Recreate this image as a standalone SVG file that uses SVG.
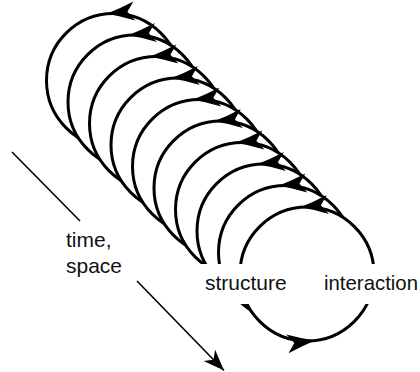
<svg xmlns="http://www.w3.org/2000/svg" xmlns:xlink="http://www.w3.org/1999/xlink" width="420" height="372" viewBox="0 0 420 372">
<style>
.loop{fill:#fff;stroke:#000;stroke-width:3}
.ah{fill:#000;stroke:none}
.lbl{font-family:"Liberation Sans",Arial,sans-serif;font-size:21px;fill:#111}
.bg{fill:#fff;stroke:none}
.axis{stroke:#000;stroke-width:1.6;fill:none}
</style>
<defs>
<path id="ah" class="ah" d="M67,0 Q70.5,13 76.5,28 L67,21 L57.5,28 Q63.5,13 67,0 Z"/>
<marker id="arr" markerUnits="userSpaceOnUse" markerWidth="24" markerHeight="20" viewBox="-22 -10 24 20" refX="0" refY="0" orient="auto">
<path d="M0,0 L-21,-8 L-15,0 L-21,8 Z" fill="#000"/>
</marker>
</defs>
<g id="loops">
<g id="loop-0"><circle class="loop" cx="113.5" cy="80.5" r="67"/><use xlink:href="#ah" transform="translate(113.5,80.5) rotate(-96)"/></g>
<g id="loop-1"><circle class="loop" cx="135" cy="102" r="67"/><use xlink:href="#ah" transform="translate(135,102) rotate(-96)"/></g>
<g id="loop-2"><circle class="loop" cx="156.5" cy="123.5" r="67"/><use xlink:href="#ah" transform="translate(156.5,123.5) rotate(-96)"/></g>
<g id="loop-3"><circle class="loop" cx="178" cy="145" r="67"/><use xlink:href="#ah" transform="translate(178,145) rotate(-96)"/></g>
<g id="loop-4"><circle class="loop" cx="199.5" cy="166.5" r="67"/><use xlink:href="#ah" transform="translate(199.5,166.5) rotate(-96)"/></g>
<g id="loop-5"><circle class="loop" cx="221" cy="188" r="67"/><use xlink:href="#ah" transform="translate(221,188) rotate(-96)"/></g>
<g id="loop-6"><circle class="loop" cx="242.5" cy="209.5" r="67"/><use xlink:href="#ah" transform="translate(242.5,209.5) rotate(-96)"/></g>
<g id="loop-7"><circle class="loop" cx="264" cy="231" r="67"/><use xlink:href="#ah" transform="translate(264,231) rotate(-96)"/></g>
<g id="loop-8"><circle class="loop" cx="285.5" cy="252.5" r="67"/><use xlink:href="#ah" transform="translate(285.5,252.5) rotate(-96)"/></g>
<g id="loop-9"><circle class="loop" cx="307" cy="274" r="67"/><use xlink:href="#ah" transform="translate(307,274) rotate(-96)"/><use xlink:href="#ah" transform="translate(307,274) rotate(83)"/></g>
</g>
<g id="connectors">
<line class="axis" x1="12" y1="152" x2="80" y2="221"/>
<line class="axis" x1="137" y1="281" x2="224" y2="370.5" marker-end="url(#arr)"/>
</g>
<g id="node-structure">
<rect class="bg" x="196" y="264" width="100" height="40"/>
<text class="lbl" x="205" y="290">structure</text>
</g>
<g id="node-interaction">
<rect class="bg" x="318" y="264" width="102" height="40"/>
<text class="lbl" x="324" y="290" textLength="94" lengthAdjust="spacingAndGlyphs">interaction</text>
</g>
<g id="node-time-space">
<text class="lbl" x="66" y="247">time,</text>
<text class="lbl" x="66" y="273">space</text>
</g>
</svg>
